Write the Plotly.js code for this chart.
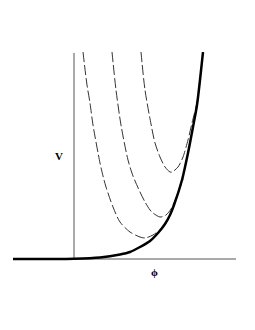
<!DOCTYPE html>
<html>
<head>
<meta charset="utf-8">
<script src="https://cdn.plot.ly/plotly-3.0.1.min.js"></script>
<style>html,body{margin:0;padding:0;background:#fff;}#chart{width:255px;height:330px;}</style>
</head>
<body>
<div id="chart"></div>
<script>
// Envelope potential (thick solid curve)
const phiEnv = [-0.61, 0, 0.26, 0.46, 0.56, 0.66, 0.76, 0.84, 0.91, 0.96, 1.00, 1.08, 1.14, 1.19, 1.23, 1.29];
const vEnv   = [0, 0.003, 0.015, 0.045, 0.07, 0.12, 0.18, 0.26, 0.35, 0.44, 0.54, 0.79, 1.06, 1.32, 1.54, 2.07];

// Dashed curves (left to right)
const phiA = [0.09, 0.13, 0.16, 0.19, 0.26, 0.29, 0.32, 0.39, 0.46, 0.56, 0.66, 0.71, 0.79, 0.88, 0.93, 0.96];
const vA   = [2.07, 1.74, 1.56, 1.34, 0.96, 0.83, 0.72, 0.52, 0.37, 0.27, 0.22, 0.21, 0.24, 0.31, 0.37, 0.44];

const phiB = [0.38, 0.42, 0.47, 0.54, 0.59, 0.66, 0.71, 0.76, 0.79, 0.86, 0.92, 0.97, 1.02, 1.06, 1.09];
const vB   = [2.07, 1.69, 1.34, 0.99, 0.83, 0.67, 0.57, 0.49, 0.46, 0.42, 0.44, 0.50, 0.61, 0.71, 0.80];

const phiC = [0.67, 0.71, 0.77, 0.81, 0.86, 0.91, 0.96, 0.98, 1.04, 1.09, 1.14, 1.18, 1.22, 1.24];
const vC   = [2.07, 1.69, 1.35, 1.16, 1.02, 0.92, 0.87, 0.87, 0.92, 1.02, 1.19, 1.36, 1.52, 1.62];

const xLabel = '<b>\u03D5</b>';
const yLabel = '<b>V</b>';

const dashed = {color: '#333', width: 1, dash: '10px,3px', shape: 'spline', smoothing: 0.8};

const traces = [
  {x: phiA, y: vA, mode: 'lines', line: dashed, hoverinfo: 'skip'},
  {x: phiB, y: vB, mode: 'lines', line: dashed, hoverinfo: 'skip'},
  {x: phiC, y: vC, mode: 'lines', line: dashed, hoverinfo: 'skip'},
  {x: phiEnv, y: vEnv, mode: 'lines', line: {color: '#000', width: 2.5, shape: 'spline', smoothing: 0.7}, hoverinfo: 'skip'}
];

const axisCommon = {showgrid: false, zeroline: false, showline: false, showticklabels: false, ticks: '', fixedrange: true};

const layout = {
  width: 255, height: 330,
  margin: {l: 13, r: 19, t: 52, b: 69, pad: 0},
  paper_bgcolor: '#fff', plot_bgcolor: '#fff',
  showlegend: false,
  xaxis: Object.assign({range: [-0.61, 1.62]}, axisCommon),
  yaxis: Object.assign({range: [-0.02, 2.07]}, axisCommon),
  shapes: [
    {type: 'line', xref: 'x', yref: 'y', x0: -0.61, x1: 1.62, y0: 0, y1: 0, line: {color: '#555', width: 1}, layer: 'below'},
    {type: 'line', xref: 'x', yref: 'y', x0: 0, x1: 0, y0: 0, y1: 2.06, line: {color: '#555', width: 1}, layer: 'below'}
  ],
  annotations: [
    {xref: 'paper', yref: 'paper', x: (59 - 13) / 223, y: (330 - 69 - 156) / 209, text: yLabel, showarrow: false,
     font: {family: 'Liberation Serif, serif', size: 11, color: '#000'}, xanchor: 'center', yanchor: 'middle'},
    {xref: 'paper', yref: 'paper', x: (154.5 - 13) / 223, y: (330 - 69 - 271.5) / 209, text: xLabel, showarrow: false,
     font: {family: 'Liberation Serif, serif', size: 11, color: '#000'}, xanchor: 'center', yanchor: 'middle'}
  ]
};

Plotly.newPlot('chart', traces, layout, {displayModeBar: false, staticPlot: true});
</script>
</body>
</html>
